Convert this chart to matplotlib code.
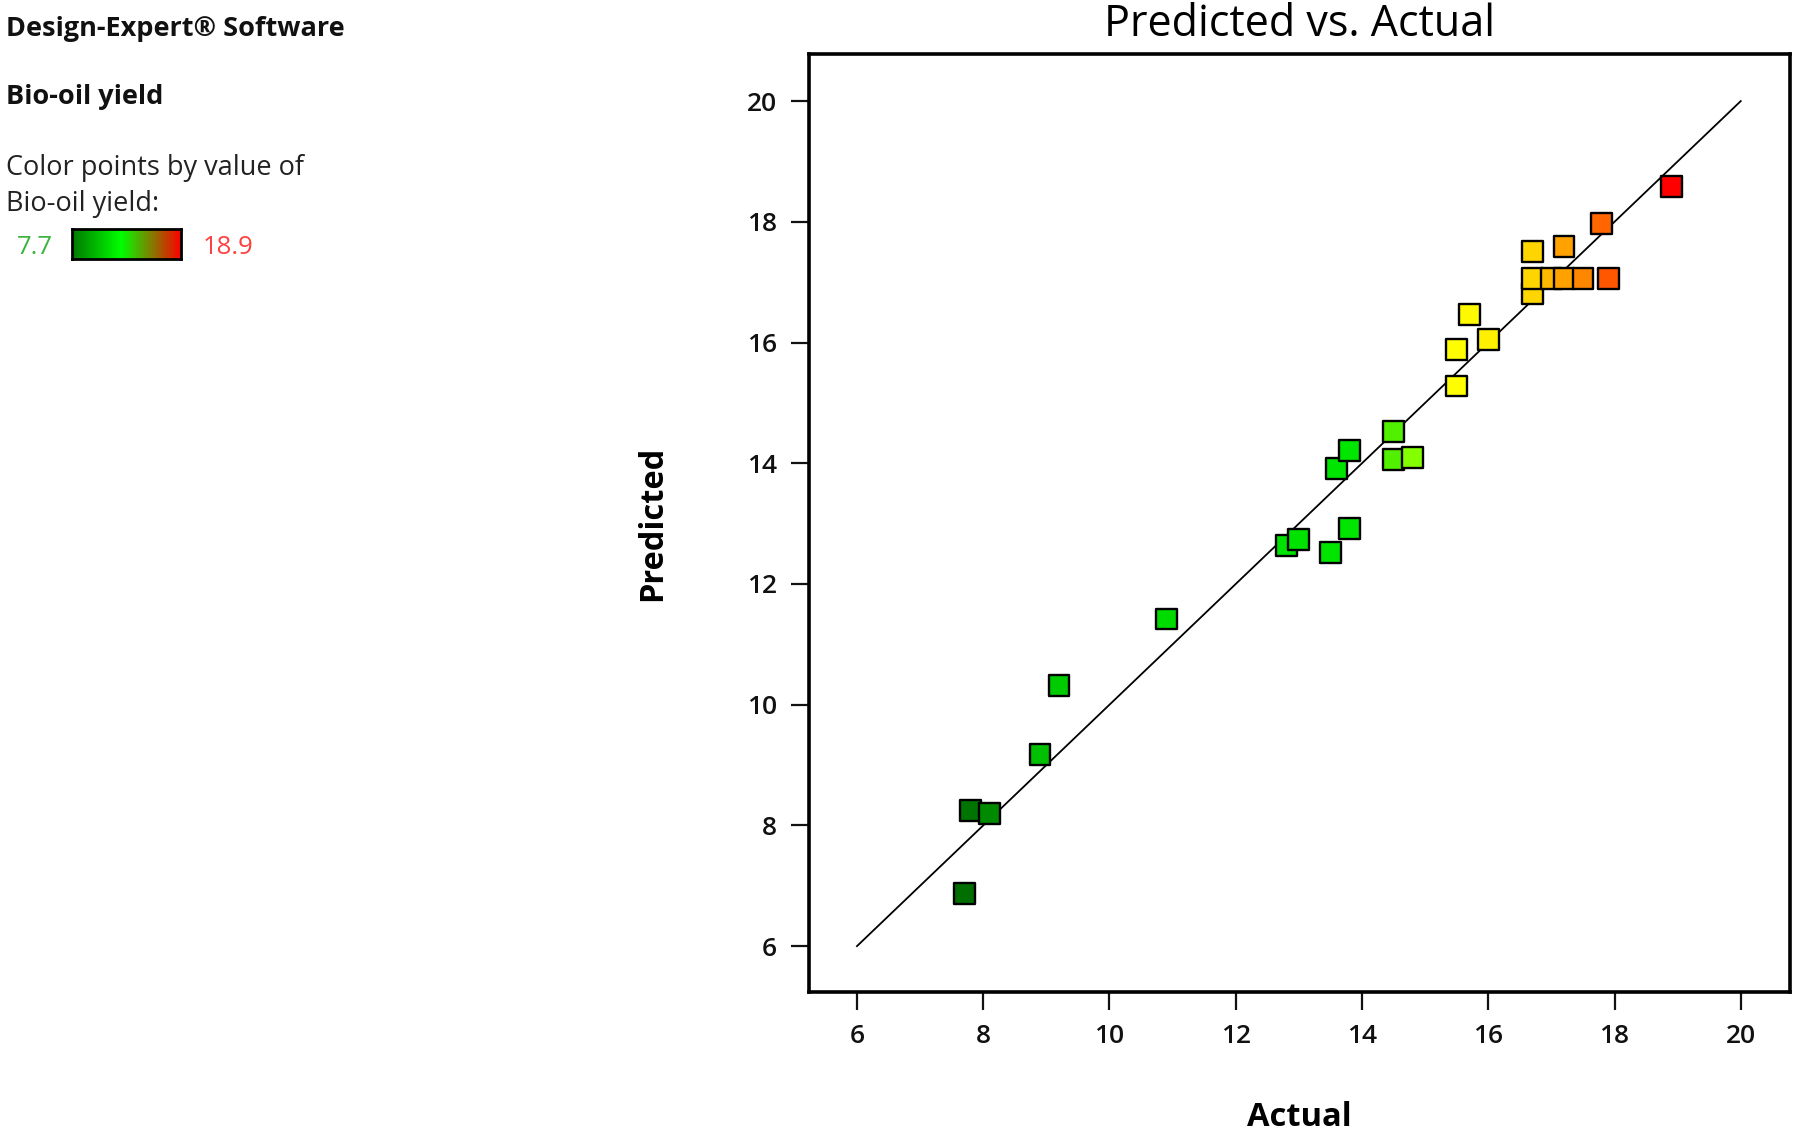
import matplotlib
matplotlib.use("Agg")
import matplotlib.pyplot as plt
import numpy as np
from matplotlib.colors import LinearSegmentedColormap, to_rgb

# ---- data ----
actual = [7.7, 7.8, 8.1, 8.9, 9.2, 10.9, 12.8, 13.0, 13.5, 13.8, 13.6, 13.8,
          14.5, 14.5, 14.8, 15.5, 15.5, 15.7, 16.0, 16.7, 16.7, 16.7,
          17.0, 17.2, 17.2, 17.5, 17.9, 17.8, 18.9]
predicted = [6.87, 8.25, 8.2, 9.18, 10.32, 11.42, 12.64, 12.73, 12.52, 12.92, 13.91, 14.21,
             14.52, 14.06, 14.10, 15.28, 15.88, 16.47, 16.05, 16.81, 17.06, 17.51,
             17.06, 17.06, 17.59, 17.06, 17.06, 17.97, 18.58]
x_ticks = [6, 8, 10, 12, 14, 16, 18, 20]
y_ticks = [6, 8, 10, 12, 14, 16, 18, 20]
vmin, vmax = 7.7, 18.9

# point colour scale (value -> colour)
scale_vals = [7.7, 8.1, 9.0, 11.0, 13.8, 14.5, 14.8, 15.5, 16.0, 16.7, 17.2, 17.5, 17.9, 18.9]
scale_cols = ["#006e00", "#008a00", "#00c800", "#00dc00", "#00e600", "#50f000", "#80ff00",
              "#ffff00", "#fff000", "#ffd500", "#ffa500", "#ff8c00", "#ff5a00", "#ff0000"]

plt.rcParams['font.family'] = ['Open Sans', 'DejaVu Sans']

W, H = 1796, 1135
fig = plt.figure(figsize=(W / 100, H / 100), dpi=100)
ax_l, ax_r, ax_t, ax_b = 809, 1790, 54, 992
ax = fig.add_axes([ax_l / W, 1 - ax_b / H, (ax_r - ax_l) / W, (ax_b - ax_t) / H])

pos = [(v - vmin) / (vmax - vmin) for v in scale_vals]
cmap = LinearSegmentedColormap.from_list("de", list(zip(pos, scale_cols)))

ax.plot([6, 20], [6, 20], color='black', lw=1.3, zorder=2)
ax.scatter(actual, predicted, c=actual, cmap=cmap, vmin=vmin, vmax=vmax,
           marker='s', s=225, edgecolors='black', linewidths=1.7, zorder=3)

ax.set_xlim(5.24, 20.78)
ax.set_ylim(5.24, 20.78)
ax.set_xticks(x_ticks)
ax.set_yticks(y_ticks)
ax.set_xticklabels([str(t) for t in x_ticks], fontweight='semibold')
ax.set_yticklabels([str(t) for t in y_ticks], fontweight='semibold')
ax.tick_params(axis='both', direction='out', length=13, width=1.6, pad=10,
               labelsize=19, colors='#111111')
ax.tick_params(top=False, right=False)
for s in ax.spines.values():
    s.set_linewidth(2.6)

ax.set_title("Predicted vs. Actual", fontsize=31, pad=13,
             family=['Liberation Sans Narrow', 'Open Sans', 'DejaVu Sans'])
ax.set_xlabel("Actual", fontsize=23.5, fontweight='bold')
ax.set_ylabel("Predicted", fontsize=23.5, fontweight='bold')
ax.xaxis.set_label_coords(0.5, -0.116)
ax.yaxis.set_label_coords(-0.143, 0.5)

# ---- left annotation block ----
def fy(px):
    return 1 - px / H

fig.text(6 / W, fy(36), "Design-Expert® Software", fontsize=19.5, fontweight='bold',
         va='baseline', ha='left', color='#111111')
fig.text(6 / W, fy(104), "Bio-oil yield", fontsize=19.5, fontweight='bold',
         va='baseline', ha='left', color='#111111')
fig.text(6 / W, fy(175), "Color points by value of", fontsize=19.5,
         va='baseline', ha='left', color='#222222')
fig.text(6 / W, fy(211), "Bio-oil yield:", fontsize=19.5,
         va='baseline', ha='left', color='#222222')
fig.text(17 / W, fy(254), "7.7", fontsize=18.5, va='baseline', ha='left', color='#3cb43c')
fig.text(203 / W, fy(254), "18.9", fontsize=18.5, va='baseline', ha='left', color='#ff4040')

cb_ax = fig.add_axes([72 / W, 1 - 259 / H, (181 - 72) / W, (259 - 229) / H])
grad_cols = [to_rgb("#007800"), to_rgb("#00ff00"), to_rgb("#ff0000")]
grad = LinearSegmentedColormap.from_list("leg", [(0, grad_cols[0]), (0.45, grad_cols[1]), (1, grad_cols[2])])
cb_ax.imshow(np.linspace(0, 1, 256)[None, :], aspect='auto', cmap=grad)
cb_ax.set_xticks([])
cb_ax.set_yticks([])
for s in cb_ax.spines.values():
    s.set_linewidth(2)

fig.savefig("out.png", dpi=100)
